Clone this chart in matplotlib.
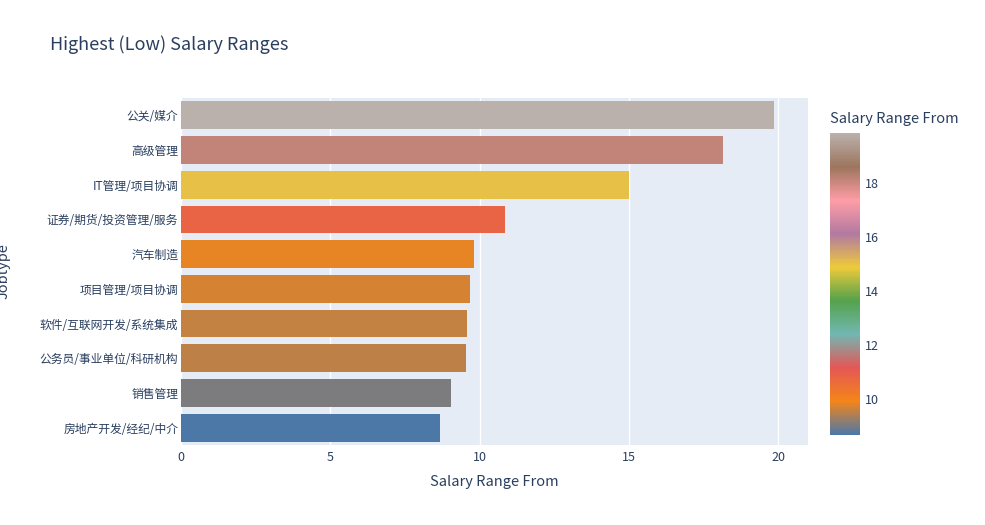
import numpy as np
import matplotlib.pyplot as plt
from matplotlib.colors import LinearSegmentedColormap, Normalize
from matplotlib.cm import ScalarMappable

plt.rcParams['font.family'] = ['Noto Sans CJK SC', 'DejaVu Sans']

jobtypes = ['房地产开发/经纪/中介', '销售管理', '公务员/事业单位/科研机构', '软件/互联网开发/系统集成',
            '项目管理/项目协调', '汽车制造', '证券/期货/投资管理/服务', 'IT管理/项目协调', '高级管理', '公关/媒介']
salary_from = [8.66, 9.03, 9.53, 9.57, 9.67, 9.83, 10.84, 15.02, 18.16, 19.87]

t10 = ['#4c78a8', '#f58518', '#e45756', '#72b7b2', '#54a24b',
       '#eeca3b', '#b279a2', '#ff9da6', '#9d755d', '#bab0ac']
cmap = LinearSegmentedColormap.from_list('t10', t10)
norm = Normalize(min(salary_from), max(salary_from))

fig = plt.figure(figsize=(9.85, 5.25), dpi=100)
ax = fig.add_axes([181/985, 1-445/525, (808-181)/985, (445-98)/525])
ax.set_facecolor('#e5ecf6')
ax.barh(jobtypes, salary_from, height=0.8, color=cmap(norm(salary_from)), zorder=2)
ax.set_xlim(0, 21)
ax.set_ylim(-0.5, len(jobtypes)-0.5)
ax.set_xticks([0, 5, 10, 15, 20])
ax.grid(axis='x', color='white', linewidth=1, zorder=1)
for s in ax.spines.values():
    s.set_visible(False)
ax.tick_params(length=0, labelsize=8.5, colors='#2a3f5f', pad=2)
ax.tick_params(axis='x', labelsize=9, pad=4)
ax.set_xlabel('Salary Range From', fontsize=10.5, color='#2a3f5f', labelpad=8)
ax.set_ylabel('Jobtype', fontsize=10.5, color='#2a3f5f')
ax.yaxis.set_label_coords(-170/627, 0.5)
fig.text(50/985, 1-45/525, 'Highest (Low) Salary Ranges', fontsize=13, color='#2a3f5f', va='center')

cax = fig.add_axes([830/985, 1-435/525, 30/985, (435-133)/525])
cb = fig.colorbar(ScalarMappable(norm=norm, cmap=cmap), cax=cax)
cb.outline.set_visible(False)
cb.set_ticks([10, 12, 14, 16, 18])
cax.tick_params(length=0, labelsize=9, colors='#2a3f5f')
fig.text(830/985, 1-119/525, 'Salary Range From', fontsize=10.5, color='#2a3f5f', va='center')

fig.savefig('out.png', dpi=100)
